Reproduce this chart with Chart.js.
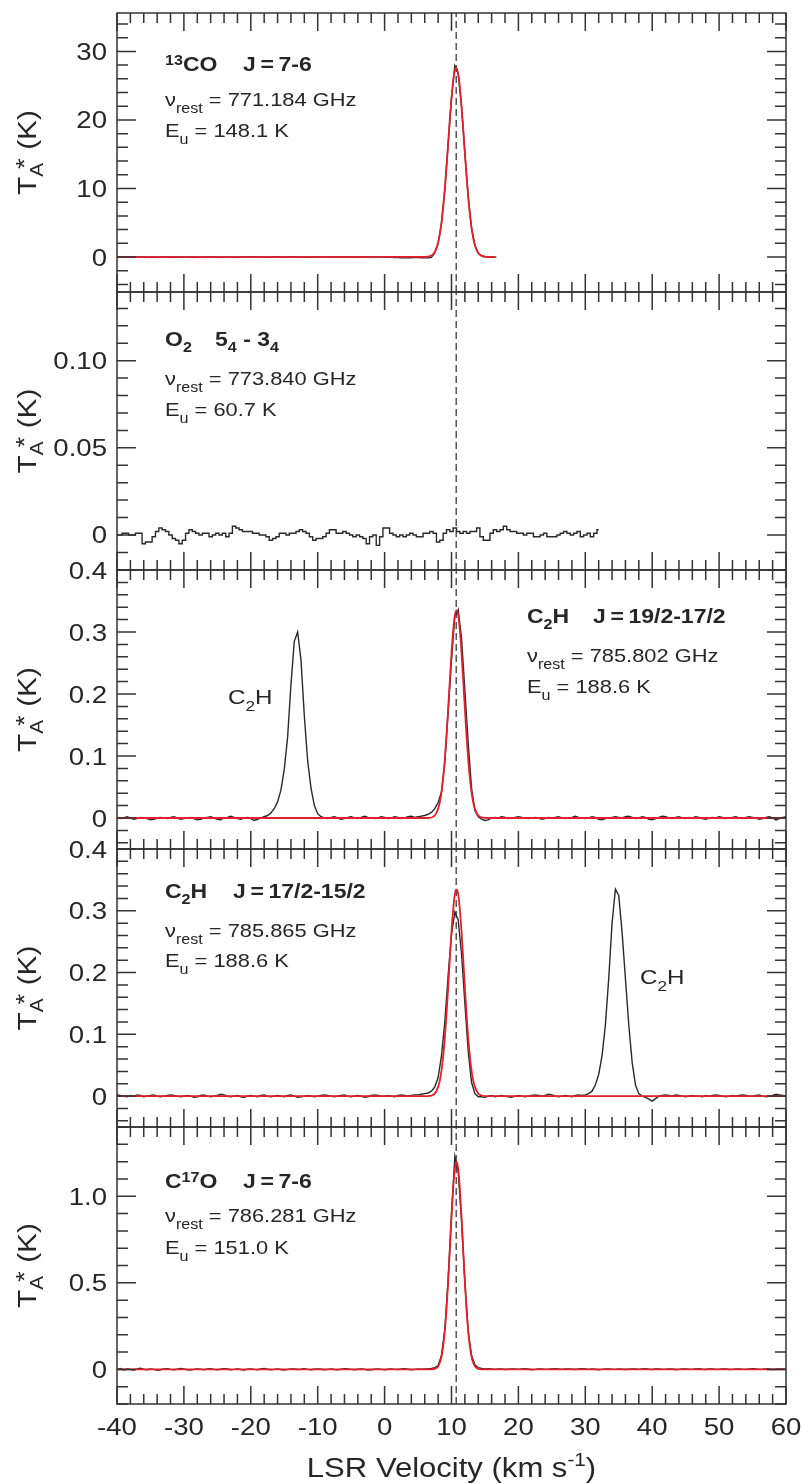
<!DOCTYPE html>
<html>
<head>
<meta charset="utf-8">
<title>LSR velocity spectra</title>
<script src="https://cdn.jsdelivr.net/npm/chart.js@4.4.1/dist/chart.umd.min.js"></script>
<style>
  html, body { margin: 0; padding: 0; background: #fff; }
  #wrap { position: relative; width: 803px; height: 1484px; }
  #wrap canvas { position: absolute; left: 0; top: 0; }
</style>
</head>
<body>
<div id="wrap">
  <canvas id="c1" width="803" height="1484"></canvas>
  <canvas id="c2" width="803" height="1484"></canvas>
  <canvas id="c3" width="803" height="1484"></canvas>
  <canvas id="c4" width="803" height="1484"></canvas>
  <canvas id="c5" width="803" height="1484"></canvas>
</div>
<script>
// ---- data ----
// velocity axis (km/s)
const velTicks = [-40, -30, -20, -10, 0, 10, 20, 30, 40, 50, 60];
const velTickLabels = ['-40', '-30', '-20', '-10', '0', '10', '20', '30', '40', '50', '60'];
const vSys = 10.7;            // dashed line

// spectra: channel 0 at -40 km/s, 0.5 km/s channels
const specStart = -40;
const chanWidth = 0.5;

// 13CO J=7-6 (K), -40 .. 16.5
const co13Spec = [
  0.00, 0.02, -0.01, 0.01, 0.00, -0.02, 0.01, 0.02, 0.00, -0.01,
  0.01, 0.00, -0.02, 0.00, 0.02, 0.01, -0.01, 0.00, 0.01, 0.00,
  -0.01, 0.01, 0.02, 0.00, -0.02, -0.01, 0.01, 0.00, 0.02, 0.01,
  0.00, -0.01, 0.00, 0.02, 0.01, -0.01, -0.02, 0.00, 0.01, 0.00,
  0.02, 0.00, -0.01, 0.01, 0.00, -0.02, 0.00, 0.01, 0.02, 0.00,
  -0.01, 0.00, 0.01, 0.00, -0.01, 0.02, 0.01, 0.00, -0.02, 0.00,
  0.01, 0.02, 0.00, -0.01, 0.00, 0.01, -0.01, 0.00, 0.02, 0.01,
  0.00, -0.02, -0.01, 0.01, 0.00, 0.02, 0.01, -0.01, 0.00, 0.01,
  0.00, -0.01, -0.05, -0.08, -0.06, -0.10, -0.12, -0.08, -0.10, -0.05,
  -0.08, -0.10, -0.12, -0.10, -0.05, 0.60, 2.00, 4.90, 9.80, 16.50,
  23.20, 27.90, 26.80, 21.90, 15.10, 8.70, 4.20, 1.70, 0.60, 0.20,
  0.05, 0.02, 0.00, 0.00
];
const co13FitVel = [-40, 6.0, 7.0, 7.25, 7.5, 7.75, 8.0, 8.25, 8.5, 8.75, 9.0, 9.25, 9.5, 9.75,
  10.0, 10.25, 10.5, 10.75, 11.0, 11.25, 11.5, 11.75, 12.0, 12.25, 12.5, 12.75, 13.0, 13.25,
  13.5, 13.75, 14.0, 14.5, 15.0, 16.0, 16.7];
const co13FitT = [0, 0.01, 0.22, 0.41, 0.74, 1.28, 2.10, 3.32, 5.0, 7.2, 9.95, 13.1, 16.6, 20.1,
  23.2, 25.7, 27.2, 27.6, 26.7, 24.8, 22.0, 18.7, 15.2, 11.8, 8.8, 6.26, 4.26, 2.78,
  1.73, 1.03, 0.59, 0.17, 0.04, 0.0, 0];

// O2 5_4-3_4 (K), -40 .. 32
const o2Spec = [
  0.000, 0.000, 0.001, 0.001, 0.000, 0.000, 0.001, 0.001, -0.005, -0.004,
  -0.004, -0.001, 0.002, 0.004, 0.003, 0.002, 0.000, -0.002, -0.003, -0.005,
  -0.003, 0.001, 0.003, 0.002, 0.001, 0.000, 0.001, 0.001, -0.001, 0.000,
  0.001, 0.000, 0.001, -0.001, 0.001, 0.005, 0.004, 0.003, 0.002, 0.002,
  0.002, 0.001, 0.001, 0.000, 0.000, -0.001, -0.003, -0.002, -0.001, 0.001,
  0.001, 0.000, 0.001, 0.001, 0.002, 0.003, 0.002, 0.001, -0.001, -0.003,
  -0.002, -0.002, -0.001, 0.001, 0.003, 0.003, 0.001, 0.001, 0.002, 0.001,
  0.000, -0.001, 0.000, -0.001, -0.002, -0.005, -0.001, 0.000, -0.006, -0.001,
  0.004, 0.004, 0.001, 0.000, -0.001, 0.000, -0.001, 0.000, 0.001, 0.000,
  -0.001, -0.001, 0.001, 0.001, 0.002, 0.001, -0.004, -0.003, 0.001, 0.003,
  0.002, 0.004, 0.002, 0.001, 0.002, 0.001, 0.002, 0.002, 0.004, -0.001,
  -0.003, -0.003, 0.001, 0.003, 0.002, 0.003, 0.005, 0.003, 0.002, 0.002,
  0.001, 0.001, 0.000, 0.001, 0.001, -0.001, -0.001, 0.000, 0.001, -0.001,
  -0.001, -0.001, 0.000, 0.001, 0.002, 0.001, 0.000, 0.001, 0.002, -0.001,
  0.000, 0.001, -0.001, 0.001, 0.003
];

// C2H J=19/2-17/2 (K), -40 .. 60
const c2h192Spec = [
  0.001, -0.001, 0.000, 0.002, 0.000, -0.002, -0.001, 0.001, 0.000, -0.001,
  -0.003, -0.002, 0.000, 0.001, 0.000, -0.001, 0.001, 0.002, 0.000, -0.002,
  -0.001, 0.000, 0.001, -0.001, -0.003, -0.002, 0.000, 0.001, 0.002, 0.000,
  -0.002, -0.003, 0.000, 0.001, 0.003, 0.001, -0.001, -0.002, 0.000, 0.001,
  -0.001, -0.004, -0.002, 0.000, 0.002, 0.004, 0.008, 0.015, 0.026, 0.045,
  0.078, 0.130, 0.215, 0.285, 0.300, 0.255, 0.165, 0.092, 0.048, 0.020,
  0.007, 0.002, 0.000, -0.001, 0.001, 0.002, 0.000, -0.002, -0.001, 0.001,
  0.002, 0.000, -0.001, 0.001, 0.003, 0.001, 0.000, -0.001, 0.000, 0.002,
  0.001, -0.001, 0.000, 0.002, 0.001, -0.001, 0.000, 0.002, 0.003, 0.001,
  0.002, 0.003, 0.004, 0.006, 0.009, 0.015, 0.025, 0.042, 0.090, 0.172,
  0.255, 0.325, 0.336, 0.290, 0.205, 0.120, 0.048, 0.012, 0.002, -0.002,
  -0.004, -0.003, 0.000, 0.001, 0.000, 0.002, 0.001, -0.001, 0.000, 0.001,
  0.002, 0.001, 0.000, -0.001, 0.000, 0.001, 0.000, -0.002, -0.001, 0.001,
  0.000, 0.001, 0.002, 0.000, -0.001, 0.000, 0.001, 0.003, 0.001, 0.000,
  -0.001, 0.000, 0.002, 0.001, -0.002, -0.003, -0.001, 0.000, 0.001, 0.002,
  0.001, 0.000, 0.002, 0.003, 0.001, -0.001, 0.000, 0.002, 0.001, -0.002,
  -0.003, -0.001, 0.001, 0.003, 0.002, 0.000, -0.001, 0.001, 0.002, 0.000,
  -0.001, 0.001, 0.000, 0.002, 0.001, -0.001, -0.002, 0.000, 0.001, 0.000,
  0.002, 0.001, -0.001, 0.000, 0.001, 0.002, 0.000, -0.001, 0.001, 0.002,
  0.001, 0.000, -0.002, -0.001, 0.001, 0.002, 0.000, -0.003, -0.001, 0.001,
  0.002
];

// C2H J=17/2-15/2 (K), -40 .. 60
const c2h172Spec = [
  0.002, 0.001, 0.000, -0.001, 0.001, 0.000, 0.002, 0.001, -0.001, 0.000,
  0.001, 0.002, 0.000, -0.001, 0.000, 0.001, 0.002, 0.001, 0.000, -0.001,
  0.000, 0.001, 0.000, -0.002, -0.001, 0.001, 0.002, 0.000, -0.001, 0.000,
  0.001, 0.003, 0.002, 0.000, -0.001, 0.000, 0.001, -0.001, -0.002, 0.000,
  0.001, 0.000, -0.001, 0.001, 0.002, 0.000, -0.001, 0.000, 0.001, 0.000,
  -0.001, 0.001, 0.002, 0.000, -0.002, -0.001, 0.000, 0.001, 0.000, -0.001,
  0.000, 0.001, 0.002, 0.001, 0.000, -0.001, 0.000, 0.001, 0.002, 0.000,
  -0.001, 0.000, 0.001, 0.000, -0.002, -0.001, 0.001, 0.002, 0.001, 0.000,
  0.000, 0.001, 0.000, -0.001, 0.001, 0.002, 0.001, 0.000, 0.001, 0.002,
  0.002, 0.003, 0.004, 0.005, 0.008, 0.015, 0.030, 0.065, 0.120, 0.195,
  0.262, 0.298, 0.285, 0.230, 0.150, 0.072, 0.022, 0.004, -0.001, -0.001,
  -0.002, 0.000, 0.001, -0.001, 0.000, 0.001, 0.000, -0.001, -0.002, 0.000,
  0.001, 0.000, -0.001, 0.000, 0.001, 0.002, 0.001, 0.000, 0.001, 0.003,
  0.002, 0.000, -0.001, 0.000, 0.001, 0.000, -0.001, 0.001, 0.002, 0.001,
  0.002, 0.004, 0.008, 0.018, 0.035, 0.065, 0.115, 0.190, 0.280, 0.335,
  0.325, 0.265, 0.190, 0.115, 0.055, 0.018, 0.004, 0.000, -0.002, -0.005,
  -0.008, -0.004, 0.000, 0.001, 0.002, 0.001, 0.000, 0.002, 0.001, 0.000,
  -0.001, 0.000, 0.001, 0.000, 0.000, -0.001, 0.001, 0.000, 0.001, 0.002,
  0.001, 0.000, -0.001, 0.000, 0.001, 0.000, 0.001, 0.002, 0.001, 0.000,
  0.000, 0.001, 0.002, 0.000, -0.001, 0.000, 0.001, 0.003, 0.002, 0.001,
  0.000
];
const c2hFitVel = [-40, 6.5, 7.5, 8.0, 8.25, 8.5, 8.75, 9.0, 9.25, 9.5, 9.75, 10.0, 10.25, 10.5,
  10.75, 11.0, 11.25, 11.5, 11.75, 12.0, 12.25, 12.5, 12.75, 13.0, 13.25, 13.5, 14.0, 14.5, 15.5, 60];
const c2h192FitT = [0, 0.0, 0.004, 0.015, 0.025, 0.041, 0.064, 0.094, 0.132, 0.176, 0.222, 0.266, 0.302, 0.327,
  0.335, 0.327, 0.302, 0.266, 0.222, 0.176, 0.132, 0.094, 0.064, 0.041, 0.025, 0.015, 0.004, 0.001, 0.0, 0];
const c2h172FitT = [0, 0.0, 0.004, 0.015, 0.025, 0.041, 0.064, 0.094, 0.132, 0.176, 0.222, 0.266, 0.302, 0.327,
  0.334, 0.327, 0.302, 0.266, 0.222, 0.176, 0.132, 0.094, 0.064, 0.041, 0.025, 0.015, 0.004, 0.001, 0.0, 0];

// C17O J=7-6 (K), -40 .. 60
const c17oSpec = [
  0.000, 0.005, -0.003, 0.002, 0.000, -0.004, 0.003, 0.006, 0.001, -0.002,
  0.002, 0.000, -0.005, -0.002, 0.003, 0.004, 0.000, -0.003, 0.001, 0.005,
  0.002, -0.002, -0.004, 0.000, 0.003, 0.001, -0.003, 0.002, 0.004, 0.000,
  -0.003, 0.001, 0.004, 0.002, -0.002, 0.000, 0.003, -0.001, -0.004, 0.001,
  0.003, 0.000, -0.002, 0.002, 0.005, 0.001, -0.003, 0.000, 0.002, -0.001,
  -0.004, 0.000, 0.003, 0.002, -0.001, 0.001, 0.004, 0.000, -0.002, 0.001,
  0.003, 0.001, -0.002, 0.000, 0.002, -0.001, -0.003, 0.001, 0.004, 0.002,
  0.000, -0.002, 0.001, 0.003, 0.000, -0.004, -0.002, 0.001, 0.002, 0.000,
  -0.002, 0.001, 0.003, 0.000, -0.001, 0.002, 0.004, 0.001, -0.002, 0.000,
  0.002, 0.001, 0.003, 0.004, 0.006, 0.010, 0.022, 0.080, 0.230, 0.520,
  0.900, 1.230, 1.140, 0.860, 0.500, 0.220, 0.080, 0.025, 0.010, 0.005,
  0.003, 0.004, 0.002, 0.000, 0.003, 0.002, -0.001, 0.001, 0.003, 0.002,
  0.000, 0.002, 0.004, 0.001, -0.002, 0.000, 0.003, 0.002, 0.000, 0.001,
  0.003, 0.004, 0.002, 0.000, 0.002, 0.003, 0.001, -0.001, 0.002, 0.004,
  0.002, 0.000, 0.003, 0.001, -0.002, 0.000, 0.002, 0.003, 0.001, 0.000,
  0.002, 0.001, -0.001, 0.001, 0.003, 0.002, 0.000, 0.002, 0.004, 0.001,
  -0.001, 0.002, 0.003, 0.000, 0.001, 0.003, 0.002, -0.002, 0.000, 0.002,
  0.003, 0.001, 0.000, 0.002, 0.004, 0.001, -0.001, 0.002, 0.003, 0.000,
  0.001, 0.003, 0.002, -0.001, 0.000, 0.002, 0.003, 0.001, 0.000, 0.002,
  0.004, 0.002, 0.000, 0.001, 0.003, 0.002, -0.001, 0.001, 0.003, 0.002,
  0.001
];
const c17oFitVel = [-40, 7.0, 7.75, 8.0, 8.25, 8.5, 8.75, 9.0, 9.25, 9.5, 9.75, 10.0, 10.25, 10.5,
  10.75, 11.0, 11.25, 11.5, 11.75, 12.0, 12.25, 12.5, 12.75, 13.0, 13.25, 13.5, 13.75, 14.25, 15.0, 60];
const c17oFitT = [0, 0.0, 0.008, 0.018, 0.038, 0.073, 0.131, 0.22, 0.345, 0.505, 0.69, 0.878, 1.045, 1.159,
  1.20, 1.159, 1.045, 0.878, 0.69, 0.505, 0.345, 0.22, 0.131, 0.073, 0.038, 0.018, 0.008, 0.001, 0.0, 0];

// y tick labels
const co13Ticks = [0, 10, 20, 30];
const co13TickLabels = ['0', '10', '20', '30'];
const o2Ticks = [0, 0.05, 0.10];
const o2TickLabels = ['0', '0.05', '0.10'];
const c2hTicks = [0, 0.1, 0.2, 0.3, 0.4];
const c2hTickLabels = ['0', '0.1', '0.2', '0.3', '0.4'];
const c17oTicks = [0, 0.5, 1.0];
const c17oTickLabels = ['0', '0.5', '1.0'];

// ---- drawing ----
const SX = 1.15;  // the original lettering is wide
const FONT = '"Liberation Sans", Arial, Helvetica, sans-serif';
const INK = '#262626';
const FRAME = '#333333';
const BLACK = '#2a2a2a';
const RED = '#e0202f';

function segWidth(ctx, s) {
  ctx.font = (s.bold ? 'bold ' : '') + s.px + 'px ' + FONT;
  return ctx.measureText(s.t).width * SX;
}

function drawRich(ctx, x, y, segs, align) {
  let total = 0;
  segs.forEach(s => { total += (s.dx || 0) + (s.noAdv ? 0 : segWidth(ctx, s)); });
  let cx = x;
  if (align === 'center') cx = x - total / 2;
  if (align === 'right') cx = x - total;
  segs.forEach(s => {
    cx += s.dx || 0;
    const w = segWidth(ctx, s);
    ctx.save();
    ctx.translate(cx, y + (s.dy || 0));
    ctx.scale(SX, 1);
    ctx.textAlign = 'left';
    ctx.textBaseline = 'alphabetic';
    ctx.fillStyle = INK;
    ctx.fillText(s.t, 0, 0);
    ctx.restore();
    if (!s.noAdv) cx += w;
  });
}

function nuLine(x, y, txt) {
  return { x: x, y: y, segs: [{ t: '\u03bd', px: 19 }, { t: 'rest', px: 14, dy: 7 }, { t: ' = ' + txt, px: 19 }] };
}
function euLine(x, y, txt) {
  return { x: x, y: y, segs: [{ t: 'E', px: 19 }, { t: 'u', px: 14, dy: 7 }, { t: ' = ' + txt, px: 19 }] };
}
const TS = '\u2009';

const panels = [
  {
    canvas: 'c1', top: 13, bottom: 292, yMin: -5.1, yMax: 35.6, yMinor: 2, yMajor: 10,
    ticks: co13Ticks, labels: co13TickLabels, spec: co13Spec, fitVel: co13FitVel, fitT: co13FitT,
    notes: [
      { x: 165, y: 71, segs: [{ t: '13', px: 14, bold: true, dy: -6 }, { t: 'CO', px: 20, bold: true }] },
      { x: 243, y: 71, segs: [{ t: 'J' + TS + '=' + TS + '7-6', px: 20, bold: true }] },
      nuLine(165, 106, '771.184 GHz'),
      euLine(165, 137, '148.1 K')
    ]
  },
  {
    canvas: 'c2', top: 292, bottom: 570, yMin: -0.0201, yMax: 0.1394, yMinor: 0.01, yMajor: 0.05,
    ticks: o2Ticks, labels: o2TickLabels, spec: o2Spec, fitVel: null, fitT: null, stepped: true,
    notes: [
      { x: 165, y: 346, segs: [{ t: 'O', px: 20, bold: true }, { t: '2', px: 14, bold: true, dy: 6 }] },
      { x: 215, y: 346, segs: [{ t: '5', px: 20, bold: true }, { t: '4', px: 14, bold: true, dy: 6 },
        { t: ' - ', px: 20, bold: true }, { t: '3', px: 20, bold: true }, { t: '4', px: 14, bold: true, dy: 6 }] },
      nuLine(165, 385, '773.840 GHz'),
      euLine(165, 416, '60.7 K')
    ]
  },
  {
    canvas: 'c3', top: 570, bottom: 849, yMin: -0.05, yMax: 0.4, yMinor: 0.02, yMajor: 0.1,
    ticks: c2hTicks, labels: c2hTickLabels, spec: c2h192Spec, fitVel: c2hFitVel, fitT: c2h192FitT,
    notes: [
      { x: 527, y: 623, segs: [{ t: 'C', px: 20, bold: true }, { t: '2', px: 14, bold: true, dy: 6 }, { t: 'H', px: 20, bold: true }] },
      { x: 593, y: 623, segs: [{ t: 'J' + TS + '=' + TS + '19/2-17/2', px: 20, bold: true }] },
      nuLine(527, 662, '785.802 GHz'),
      euLine(527, 693, '188.6 K'),
      { x: 228, y: 704, segs: [{ t: 'C', px: 21 }, { t: '2', px: 15, dy: 7 }, { t: 'H', px: 21 }] }
    ]
  },
  {
    canvas: 'c4', top: 849, bottom: 1127, yMin: -0.05, yMax: 0.4, yMinor: 0.02, yMajor: 0.1,
    ticks: c2hTicks, labels: c2hTickLabels, spec: c2h172Spec, fitVel: c2hFitVel, fitT: c2h172FitT,
    notes: [
      { x: 165, y: 898, segs: [{ t: 'C', px: 20, bold: true }, { t: '2', px: 14, bold: true, dy: 6 }, { t: 'H', px: 20, bold: true }] },
      { x: 233, y: 898, segs: [{ t: 'J' + TS + '=' + TS + '17/2-15/2', px: 20, bold: true }] },
      nuLine(165, 937, '785.865 GHz'),
      euLine(165, 967, '188.6 K'),
      { x: 640, y: 984, segs: [{ t: 'C', px: 21 }, { t: '2', px: 15, dy: 7 }, { t: 'H', px: 21 }] }
    ]
  },
  {
    canvas: 'c5', top: 1127, bottom: 1404, yMin: -0.2, yMax: 1.4, yMinor: 0.1, yMajor: 0.5,
    ticks: c17oTicks, labels: c17oTickLabels, spec: c17oSpec, fitVel: c17oFitVel, fitT: c17oFitT,
    showVel: true,
    notes: [
      { x: 165, y: 1188, segs: [{ t: 'C', px: 20, bold: true }, { t: '17', px: 14, bold: true, dy: -6 }, { t: 'O', px: 20, bold: true }] },
      { x: 243, y: 1188, segs: [{ t: 'J' + TS + '=' + TS + '7-6', px: 20, bold: true }] },
      nuLine(165, 1222, '786.281 GHz'),
      euLine(165, 1254, '151.0 K')
    ]
  }
];

function framePlugin(p) {
  return {
    id: 'frame_' + p.canvas,
    afterDatasetsDraw(chart) {
      const ctx = chart.ctx, a = chart.chartArea;
      const xs = chart.scales.x, ys = chart.scales.y;
      ctx.save();
      ctx.strokeStyle = FRAME;
      ctx.lineWidth = 1.5;
      ctx.strokeRect(a.left, a.top, a.right - a.left, a.bottom - a.top);
      ctx.beginPath();
      // velocity ticks, every 2 km/s, inside, top and bottom
      for (let k = -20; k <= 30; k++) {
        const v = k * 2;
        const px = xs.getPixelForValue(v);
        const len = (v % 10 === 0) ? 18 : 10;
        ctx.moveTo(px, a.top); ctx.lineTo(px, a.top + len);
        ctx.moveTo(px, a.bottom); ctx.lineTo(px, a.bottom - len);
      }
      // temperature ticks, left and right
      const k0 = Math.ceil(p.yMin / p.yMinor - 1e-6), k1 = Math.floor(p.yMax / p.yMinor + 1e-6);
      for (let k = k0; k <= k1; k++) {
        const v = k * p.yMinor;
        const r = v / p.yMajor;
        const major = Math.abs(r - Math.round(r)) < 1e-6;
        const len = major ? 19 : 11;
        const py = ys.getPixelForValue(v);
        ctx.moveTo(a.left, py); ctx.lineTo(a.left + len, py);
        ctx.moveTo(a.right, py); ctx.lineTo(a.right - len, py);
      }
      ctx.stroke();
      ctx.restore();
    },
    afterDraw(chart) {
      const ctx = chart.ctx, a = chart.chartArea;
      const xs = chart.scales.x, ys = chart.scales.y;
      ctx.save();
      p.ticks.forEach((v, i) => {
        drawRich(ctx, 107, ys.getPixelForValue(v) + 8.5, [{ t: p.labels[i], px: 24 }], 'right');
      });
      // y title
      ctx.save();
      ctx.translate(36, (a.top + a.bottom) / 2);
      ctx.rotate(-Math.PI / 2);
      drawRich(ctx, 0, 0, [
        { t: 'T', px: 26 }, { t: 'A', px: 18, dy: 7 }, { t: '*', px: 24, dy: -3, dx: -6 }, { t: ' (K)', px: 26 }
      ], 'center');
      ctx.restore();
      p.notes.forEach(n => drawRich(ctx, n.x, n.y, n.segs, 'left'));
      if (p.showVel) {
        velTicks.forEach((v, i) => {
          drawRich(ctx, xs.getPixelForValue(v), a.bottom + 31, [{ t: velTickLabels[i], px: 24 }], 'center');
        });
        drawRich(ctx, (a.left + a.right) / 2, a.bottom + 73, [
          { t: 'LSR Velocity (km s', px: 27 }, { t: '-1', px: 18, dy: -11 }, { t: ')', px: 27 }
        ], 'center');
      }
      ctx.restore();
    }
  };
}

panels.forEach(p => {
  const datasets = [];
  if (p.fitVel) {
    datasets.push({
      label: 'fit',
      data: p.fitVel.map((v, i) => ({ x: v, y: p.fitT[i] })),
      borderColor: RED, borderWidth: 1.8, pointRadius: 0,
      cubicInterpolationMode: 'monotone', order: 0
    });
  }
  datasets.push({
    label: 'spectrum',
    data: p.spec.map((t, i) => ({ x: specStart + i * chanWidth, y: t })),
    borderColor: BLACK, borderWidth: 1.4, pointRadius: 0,
    stepped: p.stepped ? 'middle' : false, order: 1
  });
  datasets.push({
    label: 'vsys',
    data: [{ x: vSys, y: p.yMin }, { x: vSys, y: p.yMax }],
    borderColor: '#2a2a2a', borderWidth: 1.2, borderDash: [7, 4], pointRadius: 0, order: 2
  });

  new Chart(document.getElementById(p.canvas), {
    type: 'line',
    data: { datasets: datasets },
    options: {
      responsive: false,
      animation: false,
      events: [],
      layout: { padding: { left: 117, right: 17, top: p.top, bottom: 1484 - p.bottom } },
      plugins: { legend: { display: false }, tooltip: { enabled: false } },
      scales: {
        x: { type: 'linear', min: -40, max: 60, display: false },
        y: { type: 'linear', min: p.yMin, max: p.yMax, display: false }
      }
    },
    plugins: [framePlugin(p)]
  });
});
</script>
</body>
</html>
